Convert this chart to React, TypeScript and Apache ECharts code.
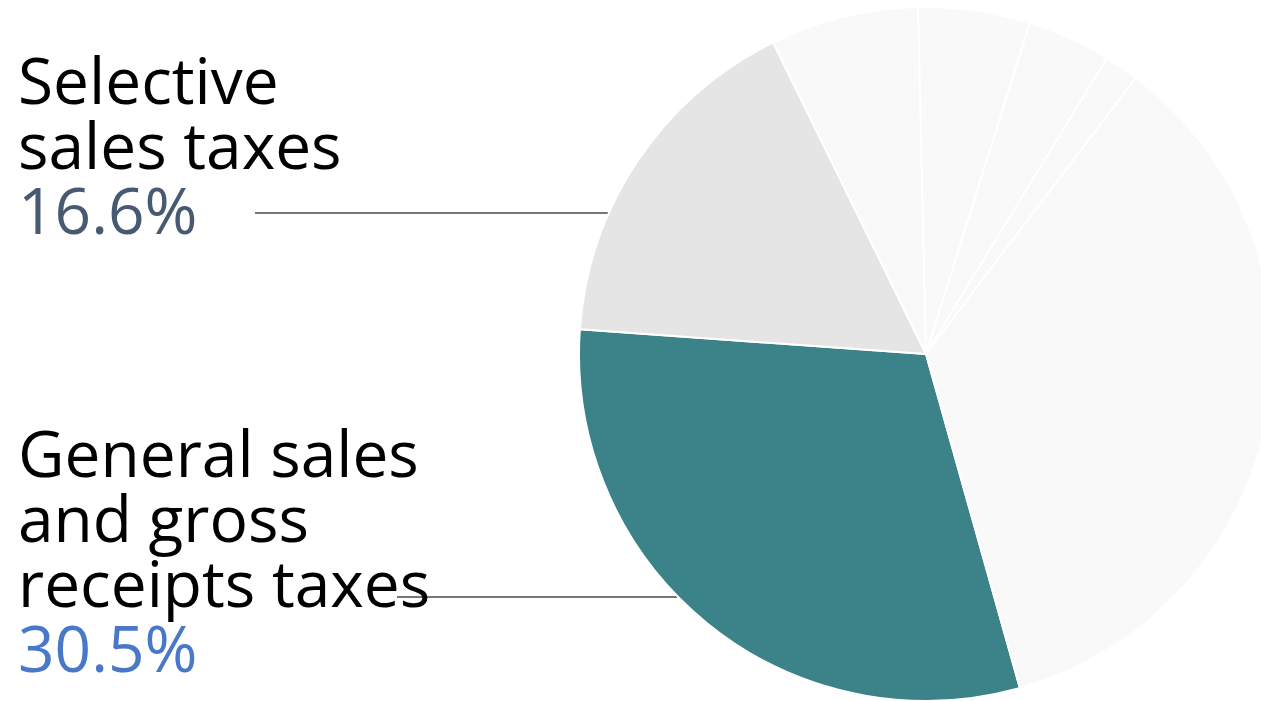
import React, { useEffect, useRef } from "react";
import * as echarts from "echarts";

const categories = [
  "General sales and gross receipts taxes",
  "Selective sales taxes",
  "Corporate income taxes",
  "License taxes",
  "Other taxes",
  "Property taxes",
  "Individual income taxes",
];
const shares = [30.5, 16.6, 6.9, 5.2, 3.9, 1.6, 35.3];
const labelLines: Record<string, string[]> = {
  "Selective sales taxes": ["Selective", "sales taxes"],
  "General sales and gross receipts taxes": ["General sales", "and gross", "receipts taxes"],
};
const sliceColors = ["#3b8289", "#e5e5e5", "#f9f9f9", "#f9f9f9", "#f9f9f9", "#f9f9f9", "#f9f9f9"];
const pctColors: Record<string, string> = {
  "Selective sales taxes": "#475a72",
  "General sales and gross receipts taxes": "#4a78c8",
};

const CX = 926;
const CY = 354;
const R = 347;
const FONT = "'Open Sans', 'Noto Sans', sans-serif";

// label placement: [top y of label block, line y, line start x]
const labelPlace: Record<string, [number, number, number]> = {
  "Selective sales taxes": [47, 213, 255],
  "General sales and gross receipts taxes": [420, 597, 397],
};

export default function App() {
  const ref = useRef<HTMLDivElement>(null);
  useEffect(() => {
    if (!ref.current) return;
    const chart = echarts.init(ref.current, undefined, { renderer: "svg" });
    const data = categories.map((name, i) => {
      const lines = labelLines[name];
      const item: any = {
        name,
        value: shares[i],
        itemStyle: { color: sliceColors[i] },
      };
      if (lines) {
        item.label = {
          show: true,
          formatter: (p: any) =>
            lines.map((l) => `{n|${l}}`).join("\n") + `\n{p|${Number(p.value).toFixed(1)}%}`,
          rich: {
            n: { fontFamily: FONT, fontSize: 64, lineHeight: 65, color: "#000000" },
            p: { fontFamily: FONT, fontSize: 64, lineHeight: 65, color: pctColors[name] },
          },
        };
        item.labelLine = { show: true, lineStyle: { color: "#777777", width: 2 } };
      } else {
        item.label = { show: false };
        item.labelLine = { show: false };
      }
      return item;
    });
    chart.setOption({
      animation: false,
      backgroundColor: "#ffffff",
      series: [
        {
          type: "pie",
          center: [CX, CY],
          radius: R,
          startAngle: 90 - 164.3,
          clockwise: true,
          avoidLabelOverlap: false,
          silent: true,
          emphasis: { disabled: true },
          itemStyle: { borderColor: "#ffffff", borderWidth: 2 },
          label: { show: false, position: "outside" },
          labelLine: { show: false },
          labelLayout: (params: any) => {
            const name = categories[params.dataIndex];
            const place = labelPlace[name];
            if (!place) return {};
            const [top, ly, lx] = place;
            const ex = CX - Math.sqrt(R * R - (ly - CY) * (ly - CY));
            return {
              x: 18,
              y: top,
              align: "left",
              verticalAlign: "top",
              labelLinePoints: [
                [ex, ly],
                [lx, ly],
                [lx, ly],
              ],
            };
          },
          data,
        },
      ],
    });
    return () => chart.dispose();
  }, []);
  return (
    <div
      ref={ref}
      style={{ position: "fixed", left: 0, top: 0, width: 1261, height: 701 }}
    />
  );
}
